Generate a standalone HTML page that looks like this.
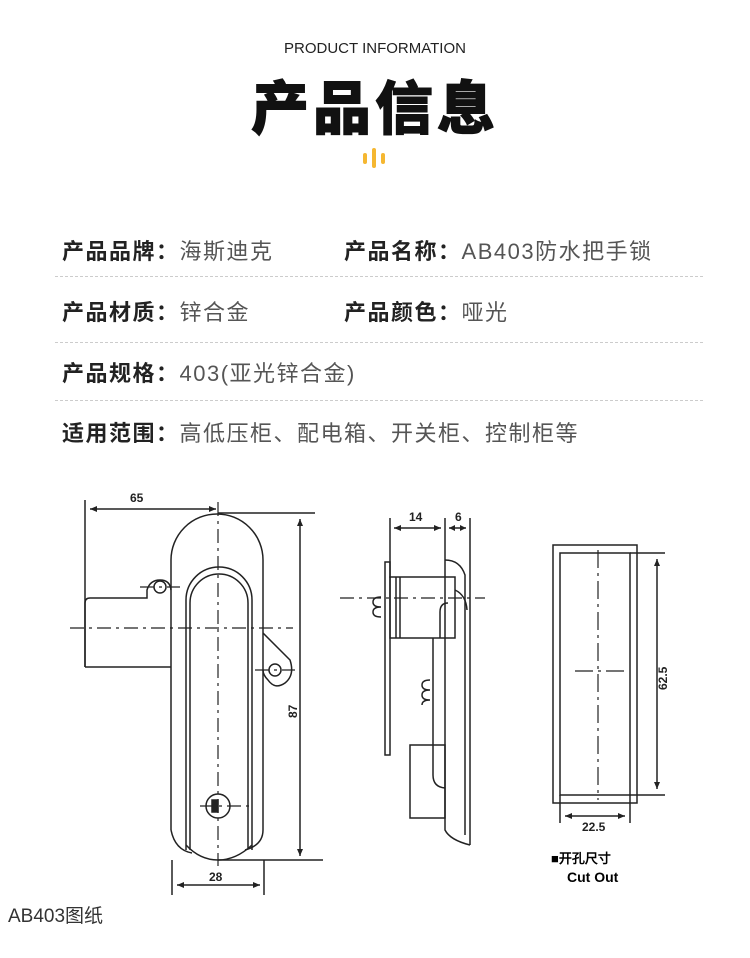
<!DOCTYPE html>
<html><head><meta charset="utf-8"><style>
body{margin:0;background:#fff;width:750px;height:958px;overflow:hidden;position:relative;font-family:"Liberation Sans","Noto Sans CJK SC",sans-serif}
.t{position:absolute;white-space:nowrap}
.row{position:absolute;font-size:22px;color:#555;white-space:nowrap;letter-spacing:1.5px}
.row b{color:#222;font-weight:bold}
.sep{position:absolute;left:55px;width:648px;border-top:1px dashed #ccc}
</style></head><body>
<div class="t" style="left:0;width:750px;text-align:center;top:40px;font-size:15px;color:#222;">PRODUCT INFORMATION</div>
<div class="t" style="left:0;width:750px;text-align:center;top:62px;font-size:58px;font-weight:900;color:#111;letter-spacing:4px;-webkit-text-stroke:1px #111">产品信息</div>
<svg style="position:absolute;left:360px;top:146px" width="30" height="24"><g stroke="#f5b731" stroke-width="4" stroke-linecap="round"><line x1="5" y1="9" x2="5" y2="16"/><line x1="14" y1="4" x2="14" y2="20"/><line x1="23" y1="9" x2="23" y2="16"/></g></svg>
<div class="row" style="left:62px;top:234px"><b>产品品牌：</b>海斯迪克</div>
<div class="row" style="left:344px;top:234px"><b>产品名称：</b>AB403防水把手锁</div>
<div class="sep" style="top:276px"></div>
<div class="row" style="left:62px;top:295px"><b>产品材质：</b>锌合金</div>
<div class="row" style="left:344px;top:295px"><b>产品颜色：</b>哑光</div>
<div class="sep" style="top:342px"></div>
<div class="row" style="left:62px;top:356px"><b>产品规格：</b>403(亚光锌合金)</div>
<div class="sep" style="top:400px"></div>
<div class="row" style="left:62px;top:416px"><b>适用范围：</b>高低压柜、配电箱、开关柜、控制柜等</div>

<svg style="position:absolute;left:0;top:0" width="750" height="958" font-family="Liberation Sans,sans-serif" font-weight="bold" font-size="12">
<g fill="none" stroke="#222" stroke-width="1.5">
<line x1="85" y1="500" x2="85" y2="667"/>
<line x1="90" y1="509" x2="216" y2="509"/>
<path d="M171 667 V560 A46 46 0 0 1 263 560 V830 Q263 845 245 850"/>
<path d="M171 830 V667"/><path d="M171 830 Q175 850 192 853"/>
<path d="M186 850 V600 A33 33 0 0 1 252 600 V850"/>
<path d="M190 850 V603 A29 29 0 0 1 248 603 V848"/>
<path d="M186 845 Q200 860 218 860 Q236 860 252 845"/>
<path d="M85 667 V603 Q85 598 90 598 H147 V590 Q150 580 160 580 Q170 580 171 590"/>
<line x1="85" y1="667" x2="171" y2="667"/>
<circle cx="160" cy="587" r="6"/>
<path d="M263 633 Q275 645 290 660 Q295 675 285 683 Q275 690 268 680 Q263 675 263 670"/>
<circle cx="275" cy="670" r="6"/>
<circle cx="218" cy="806" r="12"/>
<rect x="212" y="800" width="6" height="12" fill="#222"/>
<line x1="218" y1="513" x2="315" y2="513"/>
<line x1="218" y1="860" x2="323" y2="860"/>
<line x1="300" y1="519" x2="300" y2="856"/>
<line x1="172" y1="860" x2="172" y2="895"/>
<line x1="264" y1="860" x2="264" y2="895"/>
<line x1="177" y1="885" x2="260" y2="885"/>
<g stroke-dasharray="14 5 3 5" stroke-width="1.2">
<line x1="70" y1="628" x2="293" y2="628"/>
<line x1="218" y1="502" x2="218" y2="866"/>
<line x1="140" y1="587" x2="180" y2="587"/>
<line x1="255" y1="670" x2="295" y2="670"/>
<line x1="200" y1="806" x2="250" y2="806"/>
</g>
<line x1="390" y1="518" x2="390" y2="578"/>
<line x1="445" y1="518" x2="445" y2="560"/>
<line x1="470" y1="518" x2="470" y2="845"/>
<line x1="394" y1="528" x2="441" y2="528"/>
<line x1="449" y1="528" x2="466" y2="528"/>
<rect x="385" y="562" width="5" height="193"/>
<rect x="390" y="577" width="65" height="61"/>
<line x1="396" y1="577" x2="396" y2="638"/><line x1="400" y1="577" x2="400" y2="638"/>
<path d="M445 560 V830 Q450 840 470 845"/>
<path d="M445 560 Q460 560 465 575 V835"/>
<path d="M455 590 Q466 595 467 610"/>
<path d="M440 638 V612 Q440 603 448 603"/>
<path d="M433 638 V775 Q433 787 445 788"/>
<rect x="410" y="745" width="35" height="73"/>
<path d="M381 597 q-8 0 -8 5 q0 5 8 5 M381 607 q-8 0 -8 5 q0 5 8 5"/>
<path d="M430 680 q-8 0 -8 5 q0 5 8 5 M430 690 q-8 0 -8 5 q0 5 8 5 M430 700 q-8 0 -8 5"/>
<g stroke-dasharray="14 5 3 5" stroke-width="1.2"><line x1="340" y1="598" x2="485" y2="598"/></g>
<rect x="553" y="545" width="84" height="258"/>
<rect x="560" y="553" width="70" height="242"/>
<line x1="630" y1="553" x2="665" y2="553"/>
<line x1="630" y1="795" x2="665" y2="795"/>
<line x1="657" y1="559" x2="657" y2="789"/>
<line x1="560" y1="795" x2="560" y2="823"/>
<line x1="630" y1="795" x2="630" y2="823"/>
<line x1="565" y1="816" x2="625" y2="816"/>
<g stroke-dasharray="18 5 3 5" stroke-width="1.2">
<line x1="598" y1="550" x2="598" y2="800"/>
<line x1="575" y1="671" x2="625" y2="671"/>
</g>
</g>
<g fill="#222">
<path d="M90 509 l7 -3 v6z M216 509 l-7 -3 v6z"/>
<path d="M300 519 l-3 7 h6z M300 856 l-3 -7 h6z"/>
<path d="M177 885 l7 -3 v6z M260 885 l-7 -3 v6z"/>
<path d="M394 528 l7 -3 v6z M441 528 l-7 -3 v6z M449 528 l6 -3 v6z M466 528 l-6 -3 v6z"/>
<path d="M657 559 l-3 7 h6z M657 789 l-3 -7 h6z"/>
<path d="M565 816 l7 -3 v6z M625 816 l-7 -3 v6z"/>
</g>
<g fill="#222" font-weight="bold" font-size="12">
<text x="130" y="502">65</text>
<text x="209" y="881">28</text>
<text transform="translate(297 718) rotate(-90)">87</text>
<text x="409" y="521">14</text>
<text x="455" y="521">6</text>
<text transform="translate(667 690) rotate(-90)">62.5</text>
<text x="582" y="831">22.5</text>
</g>
<text x="551" y="863" font-size="13">■开孔尺寸</text>
<text x="567" y="882" font-size="14">Cut Out</text>
<text x="8" y="922" font-weight="normal" font-size="19" font-family="Liberation Sans,Noto Sans CJK SC,sans-serif" fill="#333">AB403图纸</text>
</svg>
</body></html>
